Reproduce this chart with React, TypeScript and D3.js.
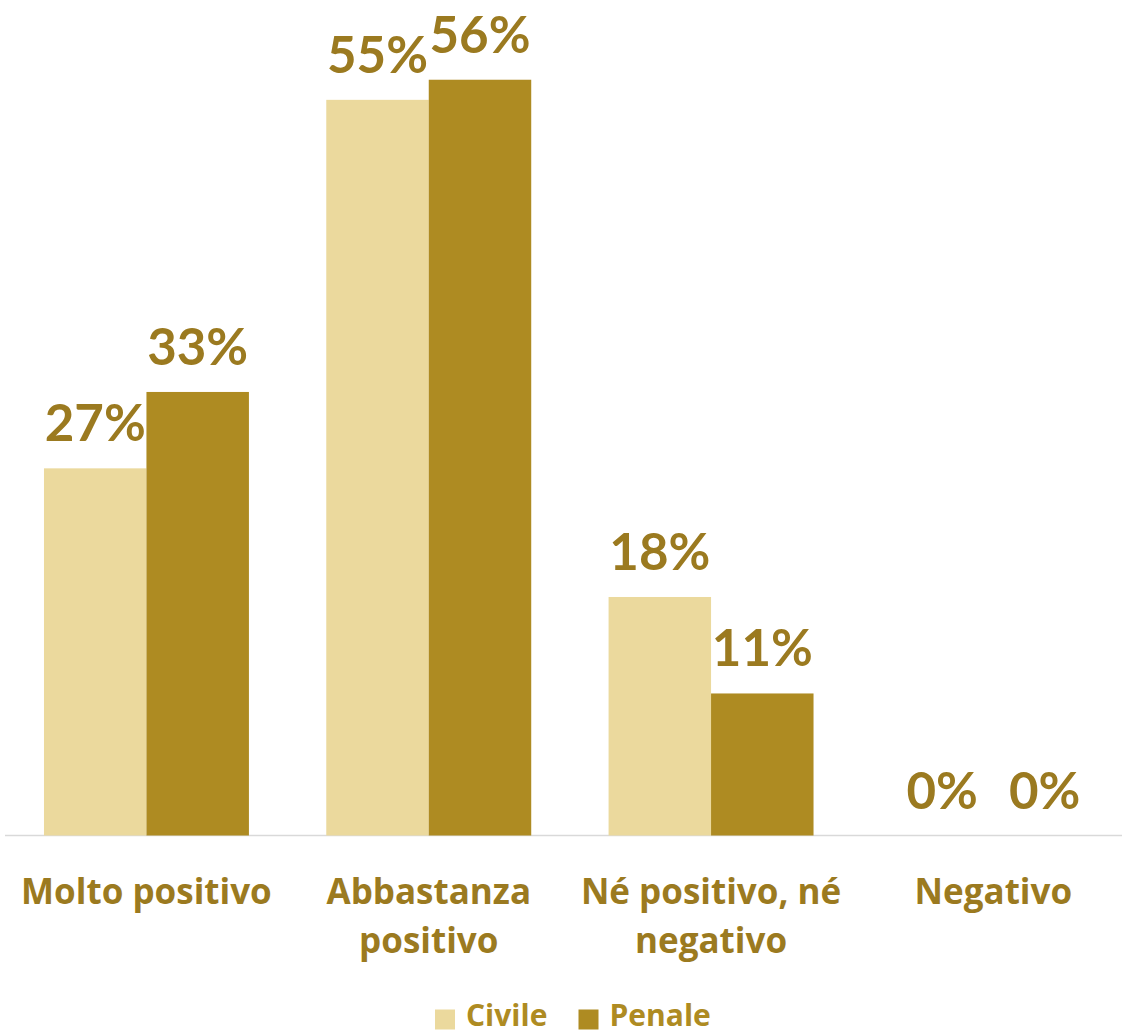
import React, { useEffect, useRef } from "react";
import * as d3 from "d3";

const categories: string[][] = [
  ["Molto positivo"],
  ["Abbastanza", "positivo"],
  ["Né positivo, né", "negativo"],
  ["Negativo"],
];
const seriesNames = ["Civile", "Penale"];
const civileValues = [27.4, 54.9, 17.8, 0];
const penaleValues = [33.1, 56.4, 10.6, 0];
const seriesColors = ["#EBD99D", "#AE8B22"];

const W = 1125;
const H = 1033;
const TEXT = "#9B7A20";
const FONT = "Lato, 'Open Sans', sans-serif";
const FONT2 = "'Open Sans', Lato, sans-serif";

export default function App() {
  const ref = useRef<SVGSVGElement>(null);
  useEffect(() => {
    const svg = d3.select(ref.current);
    svg.selectAll("*").remove();
    const baseY = 835.5;
    const y = d3.scaleLinear().domain([0, 60]).range([baseY, baseY - 60 * 13.4]);
    const x0 = d3
      .scaleBand<number>()
      .domain(d3.range(categories.length))
      .range([5.3, 1134.5])
      .paddingInner(0.274)
      .paddingOuter(0.137);
    const x1 = d3.scaleBand<number>().domain([0, 1]).range([0, x0.bandwidth()]);
    const series = [civileValues, penaleValues];

    const g = svg.append("g");
    g.append("line")
      .attr("x1", 5)
      .attr("x2", 1122)
      .attr("y1", baseY)
      .attr("y2", baseY)
      .attr("stroke", "#D9D9D9")
      .attr("stroke-width", 1.5);

    series.forEach((vals, si) => {
      vals.forEach((v, ci) => {
        const bx = (x0(ci) as number) + (x1(si) as number);
        g.append("rect")
          .attr("x", bx)
          .attr("y", y(v))
          .attr("width", x1.bandwidth())
          .attr("height", baseY - y(v))
          .attr("fill", seriesColors[si]);
        g.append("text")
          .attr("x", bx + x1.bandwidth() / 2)
          .attr("y", y(v) - 27)
          .attr("text-anchor", "middle")
          .attr("font-family", FONT)
          .attr("font-weight", 700)
          .attr("font-size", 51)
          .attr("fill", TEXT)
          .text(d3.format(".0f")(v) + "%");
      });
    });

    categories.forEach((lines, ci) => {
      const cx = (x0(ci) as number) + x0.bandwidth() / 2;
      lines.forEach((ln, li) => {
        g.append("text")
          .attr("x", cx)
          .attr("y", 904 + li * 49)
          .attr("text-anchor", "middle")
          .attr("font-family", FONT2)
          .attr("font-weight", 700)
          .attr("font-size", 35)
          .attr("fill", TEXT)
          .text(ln);
      });
    });

    const legendX = [435, 578.5];
    seriesNames.forEach((name, si) => {
      g.append("rect")
        .attr("x", legendX[si])
        .attr("y", 1009.5)
        .attr("width", 20)
        .attr("height", 20)
        .attr("fill", seriesColors[si]);
      g.append("text")
        .attr("x", legendX[si] + 31)
        .attr("y", 1026)
        .attr("font-family", FONT2)
        .attr("font-weight", 700)
        .attr("font-size", 30)
        .attr("fill", "#AE8B22")
        .text(name);
    });
  }, []);
  return (
    <svg
      ref={ref}
      width={W}
      height={H}
      style={{ position: "absolute", left: 0, top: 0, display: "block", background: "#fff" }}
    />
  );
}
